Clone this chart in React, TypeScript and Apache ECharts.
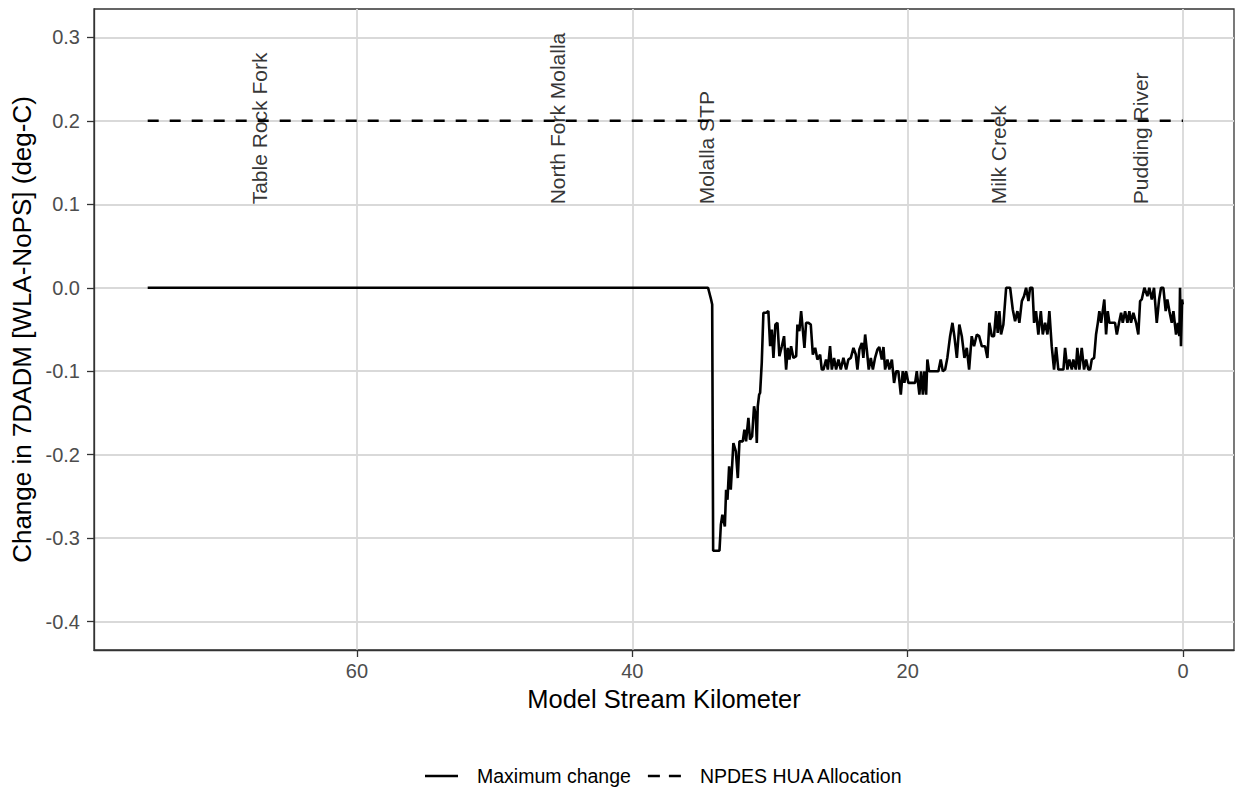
import React, { useEffect, useRef } from "react";
import * as echarts from "echarts";

// ---- Data ----
const streamKm: number[] = [
  75.2, 34.5, 34.28, 34.2, 34.13, 33.67,
  33.57, 33.46, 33.28, 33.19, 33.09, 32.97, 32.85, 32.66, 32.48, 32.34, 32.22, 31.98, 31.86, 31.74,
  31.57, 31.45, 31.3, 31.16, 31.03, 30.96, 30.89, 30.79, 30.72, 30.6, 30.48, 30.28, 30.12, 29.99,
  29.87, 29.75, 29.61, 29.46, 29.32, 29.14, 28.98, 28.83, 28.71, 28.59, 28.47, 28.3, 28.1, 28.01,
  27.87, 27.74, 27.62, 27.5, 27.38, 27.21, 27.04, 26.89, 26.72, 26.56, 26.36, 26.24, 26.12, 25.93,
  25.8, 25.64, 25.51, 25.35, 25.2, 25.03, 24.86, 24.67, 24.47, 24.31, 24.13, 23.94, 23.77, 23.65,
  23.51, 23.33, 23.22, 23.09, 22.97, 22.83, 22.68, 22.53, 22.37, 22.2, 22.06, 21.88, 21.76, 21.64,
  21.47, 21.33, 21.15, 20.99, 20.84, 20.68, 20.5, 20.36, 20.24, 20.12, 19.95, 19.7, 19.46, 19.34,
  19.15, 19.03, 18.9, 18.79, 18.66, 18.57, 18.45, 18.13, 17.77, 17.6, 17.45, 17.28, 17.12, 16.92,
  16.75, 16.61, 16.43, 16.25, 16.07, 15.88, 15.71, 15.54, 15.35, 15.18, 14.98, 14.81, 14.62, 14.38,
  14.21, 14.07, 13.89, 13.73, 13.58, 13.46, 13.34, 13.22, 13.05, 12.85, 12.56, 12.37, 12.2, 12.03,
  11.89, 11.71, 11.55, 11.4, 11.23, 11.11, 10.94, 10.82, 10.68, 10.51, 10.33, 10.19, 10.02, 9.85,
  9.71, 9.54, 9.37, 9.22, 9.06, 8.88, 8.69, 8.57, 8.4, 8.26, 8.08, 7.97, 7.79, 7.68, 7.53, 7.36,
  7.19, 7.04, 6.88, 6.75, 6.63, 6.46, 6.32, 6.19, 6.08, 5.95, 5.72, 5.59, 5.47, 5.35, 5.18, 4.94,
  4.81, 4.65, 4.5, 4.38, 4.21, 4.04, 3.9, 3.78, 3.61, 3.41, 3.25, 3.12, 3.0, 2.81, 2.59, 2.45,
  2.27, 2.11, 1.91, 1.74, 1.6, 1.43, 1.26, 1.14, 0.99, 0.82, 0.7, 0.51, 0.38, 0.27, 0.22, 0.15,
  0.07, 0.02,
];
const maxChange: number[] = [
  0, 0, -0.014, -0.02, -0.315, -0.315,
  -0.284, -0.272, -0.286, -0.242, -0.254, -0.214, -0.242, -0.186, -0.196, -0.228, -0.184, -0.184, -0.17, -0.184,
  -0.156, -0.182, -0.178, -0.142, -0.154, -0.186, -0.142, -0.128, -0.126, -0.09, -0.03, -0.03, -0.028, -0.07,
  -0.05, -0.084, -0.044, -0.042, -0.082, -0.07, -0.058, -0.098, -0.072, -0.086, -0.07, -0.084, -0.082, -0.044,
  -0.052, -0.028, -0.05, -0.072, -0.042, -0.042, -0.044, -0.08, -0.072, -0.086, -0.08, -0.098, -0.098, -0.086,
  -0.098, -0.07, -0.098, -0.084, -0.098, -0.086, -0.098, -0.084, -0.098, -0.086, -0.084, -0.072, -0.08, -0.098,
  -0.074, -0.066, -0.084, -0.056, -0.074, -0.098, -0.084, -0.098, -0.084, -0.074, -0.071, -0.086, -0.071, -0.098,
  -0.086, -0.098, -0.086, -0.114, -0.1, -0.1, -0.128, -0.1, -0.114, -0.1, -0.114, -0.114, -0.114, -0.1,
  -0.128, -0.1, -0.128, -0.1, -0.128, -0.086, -0.1, -0.1, -0.1, -0.086, -0.1, -0.098, -0.084, -0.058,
  -0.042, -0.058, -0.084, -0.044, -0.058, -0.084, -0.072, -0.098, -0.058, -0.07, -0.056, -0.058, -0.07, -0.07,
  -0.084, -0.042, -0.058, -0.058, -0.028, -0.054, -0.028, -0.056, -0.044, 0, 0, -0.026, -0.04, -0.028,
  -0.042, -0.016, -0.01, 0, -0.016, 0, 0, -0.042, -0.028, -0.056, -0.028, -0.056, -0.042, -0.056,
  -0.028, -0.07, -0.098, -0.071, -0.098, -0.098, -0.098, -0.072, -0.098, -0.086, -0.098, -0.086, -0.098, -0.072, -0.098, -0.072,
  -0.098, -0.086, -0.098, -0.098, -0.086, -0.084, -0.056, -0.042, -0.028, -0.042, -0.014, -0.056, -0.028, -0.042, -0.042, -0.042,
  -0.056, -0.042, -0.03, -0.042, -0.028, -0.042, -0.028, -0.042, -0.03, -0.042, -0.056, -0.016, -0.014, 0, -0.01, 0,
  -0.014, 0, -0.042, -0.014, 0, 0, -0.028, -0.014, -0.028, -0.042, -0.028, -0.056, -0.042, -0.058, 0, -0.07,
  -0.014, -0.02,
];
const allocationKm: number[] = [75.2, 0];
const allocationValue: number[] = [0.2, 0.2];

const siteNames: string[] = ["Table Rock Fork", "North Fork Molalla", "Molalla STP", "Milk Creek", "Pudding River"];
const siteKm: number[] = [67.1, 45.4, 34.6, 13.4, 3.1];
const siteLabelValue = 0.1;

const xTicks: number[] = [0, 20, 40, 60];
const yTicks: number[] = [-0.4, -0.3, -0.2, -0.1, 0, 0.1, 0.2, 0.3];

const FONT = "'Liberation Sans', Arial, sans-serif";

export default function App() {
  const ref = useRef<HTMLDivElement>(null);
  useEffect(() => {
    if (!ref.current) return;
    const chart = echarts.init(ref.current, undefined, { renderer: "svg" });
    const gridColor = "#d9d9d9";
    chart.setOption({
      animation: false,
      backgroundColor: "#ffffff",
      textStyle: { fontFamily: FONT },
      grid: {
        left: 94,
        right: 4,
        top: 9,
        bottom: 142,
        show: true,
        borderColor: "#333333",
        borderWidth: 1.3,
        backgroundColor: "#ffffff",
      },
      legend: {
        top: 761,
        left: 420,
        itemWidth: 33,
        itemHeight: 2.5,
        itemGap: 17,
        data: [
          { name: "Maximum change", icon: "path://M0,0h33v2.5h-33z" },
          { name: "NPDES HUA Allocation", icon: "path://M0,0h12v2.5h-12z M21,0h12v2.5h-12z" },
        ],
        textStyle: { fontSize: 19.5, color: "#000000", fontFamily: FONT, padding: [0, 0, 0, 14] },
      },
      xAxis: {
        type: "value",
        inverse: true,
        min: -3.7,
        max: 79.1,
        name: "Model Stream Kilometer",
        nameLocation: "middle",
        nameGap: 36,
        nameTextStyle: { fontSize: 25.5, color: "#000000", fontFamily: FONT },
        axisLine: { show: true, onZero: false, lineStyle: { color: "#333333", width: 1.3 } },
        axisTick: { show: true, length: 7, customValues: xTicks, lineStyle: { color: "#333333", width: 1.3 } },
        axisLabel: { customValues: xTicks, fontSize: 20, color: "#4d4d4d", margin: 11, fontFamily: FONT },
        splitLine: { show: true, lineStyle: { color: gridColor, width: 1.8 } },
      },
      yAxis: {
        type: "value",
        min: -0.434,
        max: 0.334,
        name: "Change in 7DADM [WLA-NoPS] (deg-C)",
        nameLocation: "middle",
        nameGap: 54,
        nameTextStyle: { fontSize: 26, color: "#000000", fontFamily: FONT },
        axisLine: { show: true, onZero: false, lineStyle: { color: "#333333", width: 1.3 } },
        axisTick: { show: true, length: 7, customValues: yTicks, lineStyle: { color: "#333333", width: 1.3 } },
        axisLabel: {
          customValues: yTicks,
          fontSize: 20,
          color: "#4d4d4d",
          margin: 14,
          fontFamily: FONT,
          formatter: (v: number) => v.toFixed(1),
        },
        splitLine: { show: true, lineStyle: { color: gridColor, width: 1.8 } },
      },
      series: [
        {
          name: "NPDES HUA Allocation",
          type: "line",
          symbol: "none",
          data: allocationKm.map((k, i) => [k, allocationValue[i]]),
          lineStyle: { color: "#000000", width: 2.5, type: [11, 11] },
          itemStyle: { color: "#000000" },
          z: 3,
        },
        {
          name: "Maximum change",
          type: "line",
          symbol: "none",
          data: streamKm.map((k, i) => [k, maxChange[i]]),
          lineStyle: { color: "#000000", width: 2.6 },
          itemStyle: { color: "#000000" },
          z: 4,
        },
        {
          name: "sites",
          type: "scatter",
          symbolSize: 1,
          itemStyle: { color: "rgba(0,0,0,0)" },
          data: siteNames.map((n, i) => ({ name: n, value: [siteKm[i], siteLabelValue] })),
          label: {
            show: true,
            formatter: "{b}",
            position: "inside",
            rotate: 90,
            align: "left",
            verticalAlign: "middle",
            fontSize: 21,
            color: "#000000",
            fontFamily: FONT,
          },
          z: 5,
        },
      ],
    });
    return () => chart.dispose();
  }, []);
  return (
    <div
      ref={ref}
      style={{ position: "fixed", left: 0, top: 0, width: 1238, height: 792, background: "#fff" }}
    />
  );
}
